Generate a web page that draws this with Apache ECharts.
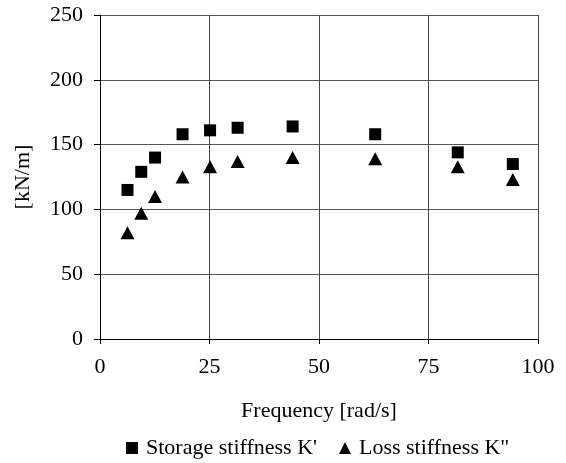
<!DOCTYPE html>
<html>
<head>
<meta charset="utf-8">
<script src="https://cdn.jsdelivr.net/npm/echarts@6/dist/echarts.min.js"></script>
<style>
  html, body { margin: 0; padding: 0; background: #fff; }
  #chart { width: 566px; height: 463px; }
</style>
</head>
<body>
<div id="chart"></div>
<script>
// Angular frequency of each measurement [rad/s]
const frequency = [6.28, 9.42, 12.57, 18.85, 25.13, 31.42, 43.98, 62.83, 81.68, 94.25];
// Storage stiffness K' [kN/m]
const storageStiffness = [115, 129, 140, 158, 161, 163, 164, 158, 144, 135];
// Loss stiffness K'' [kN/m]
const lossStiffness = [82, 97, 110, 125, 133, 137, 140, 139, 133, 123];

const seriesNames = ["Storage stiffness K'", 'Loss stiffness K"'];

const pairs = (xs, ys) => xs.map((x, i) => [x, ys[i]]);

const font = 'Liberation Serif, Times New Roman, serif';
const chart = echarts.init(document.getElementById('chart'));

chart.setOption({
  animation: false,
  textStyle: { fontFamily: font, color: '#000' },
  grid: { left: 100, right: 28, top: 15, bottom: 124 },
  legend: {
    top: 432,
    left: 121,
    itemGap: 22,
    itemWidth: 12,
    itemHeight: 12,
    textStyle: { fontFamily: font, fontSize: 22, color: '#000', padding: [0, 0, 0, 3] },
    data: [
      { name: seriesNames[0], icon: 'rect' },
      { name: seriesNames[1], icon: 'triangle' }
    ]
  },
  xAxis: {
    type: 'value',
    min: 0, max: 100, interval: 25,
    name: 'Frequency [rad/s]',
    nameLocation: 'middle',
    nameGap: 61,
    nameTextStyle: { fontFamily: font, fontSize: 22, color: '#000' },
    axisLine: { show: true, lineStyle: { color: '#000', width: 1 } },
    axisTick: { show: true, inside: false, length: 5, lineStyle: { color: '#000' } },
    axisLabel: { fontFamily: font, fontSize: 22, color: '#000', margin: 17 },
    splitLine: { show: true, lineStyle: { color: '#444', width: 1 } }
  },
  yAxis: {
    type: 'value',
    min: 0, max: 250, interval: 50,
    name: '[kN/m]',
    nameLocation: 'middle',
    nameGap: 66,
    nameRotate: 90,
    nameTextStyle: { fontFamily: font, fontSize: 22, color: '#000' },
    axisLine: { show: true, lineStyle: { color: '#000', width: 1 } },
    axisTick: { show: true, inside: false, length: 6, lineStyle: { color: '#000' } },
    axisLabel: { fontFamily: font, fontSize: 22, color: '#000', margin: 17 },
    splitLine: { show: true, lineStyle: { color: '#555', width: 1 } }
  },
  series: [
    {
      name: seriesNames[0],
      type: 'scatter',
      symbol: 'rect',
      symbolSize: 12,
      itemStyle: { color: '#000', opacity: 1 },
      data: pairs(frequency, storageStiffness)
    },
    {
      name: seriesNames[1],
      type: 'scatter',
      symbol: 'triangle',
      symbolSize: [14, 13],
      itemStyle: { color: '#000', opacity: 1 },
      data: pairs(frequency, lossStiffness)
    }
  ]
});
</script>
</body>
</html>
